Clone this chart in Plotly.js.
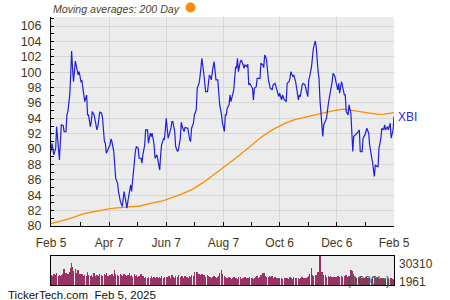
<!DOCTYPE html>
<html>
<head>
<meta charset="utf-8">
<script src="https://cdn.plot.ly/plotly-3.0.1.min.js"></script>
<style>
html,body{margin:0;padding:0;background:#fff;}
#chart{width:450px;height:300px;}
</style>
</head>
<body>
<div id="chart"></div>
<script>
// ---- data ----
const startDate = '2024-02-05';
// day offsets from start date for each price/volume sample
const priceDays = [
0,1,3,5,6,8,9,10,11,13,14,16,17,18,20,21,22,23,24,26,27,29,30,31,32,33,35,36,38,39,40,42,43,44,46,47,49,50,52,54,55,57,58,59,61,63,
64,65,67,68,69,71,72,74,75,76,78,79,81,82,84,85,86,87,89,90,91,93,94,96,97,98,100,101,103,104,106,107,108,110,111,113,114,116,117,118,120,121,123,124,
125,126,128,129,130,132,133,135,136,138,139,140,142,143,145,146,148,149,150,152,153,155,156,158,159,160,161,163,164,165,167,168,169,170,171,173,174,175,176,178,179,180,182,183,185,186,
187,188,190,191,192,194,195,197,198,199,200,202,203,205,206,207,209,210,211,212,214,215,216,217,219,220,222,223,224,226,227,228,229,230,232,233,234,236,237,239,240,241,243,244,246,247,
249,251,252,254,255,256,258,259,261,262,264,265,266,268,269,271,272,274,275,276,278,279,280,282,283,285,286,287,288,289,290,291,293,294,296,297,298,300,301,303,304,306,307,308,310,
311,313,314,315,317,318,320,321,322,323,325,326,328,329,330,332,333,335,336,337,339,340,342,343,345,346,348,349,350,352,353,355,356,357,359,360,362,363,365,366
];
const xbiPrice = [
89.68,90.76,89.25,90.11,92.93,90.11,88.60,90.98,93.14,93.06,92.28,92.28,94.44,94.87,97.04,99.64,102.75,100.50,98.77,101.45,100.94,99.64,100.07,99.20,98.77,98.86,96.61,96.17,97.04,94.44,94.44,92.93,93.58,94.87,94.44,93.58,92.49,92.93,94.79,94.66,94.00,90.98,90.76,89.46,90.11,90.55,
91.32,90.98,89.68,87.95,86.22,85.57,84.48,83.19,82.75,82.54,84.48,83.84,82.32,83.19,84.70,85.35,84.48,86.22,88.38,89.68,90.33,90.11,88.81,88.81,88.16,89.25,90.55,92.49,92.49,90.76,92.06,91.63,92.06,90.55,88.81,89.25,88.60,87.30,89.25,90.55,91.32,91.19,94.00,92.49,
91.41,91.84,92.71,93.58,93.58,92.28,90.33,89.68,89.90,91.41,93.49,92.93,92.28,92.80,92.71,92.71,91.19,90.98,92.71,93.36,94.44,95.09,97.90,98.55,99.42,100.72,101.80,99.85,98.77,97.47,97.47,98.77,99.64,99.42,98.99,100.72,101.37,100.29,98.99,98.99,97.47,95.74,94.44,93.36,92.28,94.44,
94.44,95.31,95.74,97.04,96.17,97.26,97.69,100.72,100.50,101.80,100.07,101.37,101.58,100.94,100.50,100.94,100.72,101.02,98.34,98.55,98.12,97.90,96.39,97.90,98.12,99.20,99.20,99.20,101.15,100.94,100.59,102.23,102.02,101.58,98.99,98.55,97.90,97.69,98.34,98.55,97.90,97.69,96.82,97.26,96.39,97.04,
96.39,96.17,98.55,98.77,99.20,100.07,99.42,99.64,98.77,97.69,96.39,97.04,96.82,98.34,98.55,98.34,97.90,96.82,98.99,99.42,100.72,102.45,103.10,104.05,103.32,100.07,99.20,96.39,94.44,92.71,91.63,93.14,93.79,94.00,95.96,96.61,97.47,98.77,99.85,99.42,98.77,97.69,98.55,97.26,98.77,
98.12,97.04,97.04,94.87,94.44,95.74,94.66,91.41,89.68,91.63,91.84,92.06,92.28,92.49,89.68,89.68,91.41,91.84,92.49,92.71,92.06,90.55,89.03,88.38,86.43,87.95,87.73,87.73,90.11,91.41,92.71,92.49,93.14,92.49,92.93,92.49,93.36,91.41,92.49,94.22
];
// volume in thousands of shares
const volume = [
10.5,9.8,11.2,10.1,12.5,9.6,10.8,9.5,10.2,11.0,16.8,12.1,10.4,11.5,13.2,17.5,22.7,18.9,14.3,16.5,12.8,15.2,11.6,12.0,10.3,11.8,9.7,10.5,8.9,13.6,10.2,9.5,10.1,8.8,12.4,9.6,10.9,9.3,11.1,10.4,9.2,11.7,10.0,12.9,9.4,10.6,
10.2,11.4,9.8,15.6,12.0,10.5,9.7,11.3,10.8,9.4,11.9,10.1,8.9,10.6,12.2,9.5,10.0,8.7,11.0,9.2,10.4,8.8,9.6,11.2,8.5,9.0,7.8,8.6,7.4,8.1,7.2,9.3,7.7,8.4,7.0,7.9,6.8,8.2,7.5,9.1,7.3,8.0,7.6,8.3,
8.1,9.4,7.6,10.2,8.8,7.3,9.0,8.5,10.6,7.9,8.3,9.7,7.5,8.9,8.0,7.2,9.1,8.6,10.0,9.3,13.8,11.2,14.1,12.0,10.4,9.6,11.5,10.1,9.2,8.7,10.9,9.4,8.2,8.8,7.7,8.4,9.5,8.0,7.6,8.3,9.9,12.4,15.8,11.0,9.6,8.5,
7.4,6.8,8.1,7.0,6.3,7.7,8.5,6.9,7.2,6.1,7.9,8.3,6.6,7.1,6.4,8.0,7.5,6.7,7.3,8.6,6.9,7.6,6.2,7.0,8.2,9.1,7.4,8.8,10.3,12.6,11.8,12.3,9.7,8.4,7.9,9.0,8.2,9.6,7.7,8.5,7.1,6.8,7.5,6.9,7.3,6.6,
7.2,6.8,7.5,6.4,7.9,7.0,6.6,8.1,7.3,6.9,7.7,6.5,7.4,8.0,6.8,7.2,7.6,8.3,9.2,11.8,17.4,10.6,9.1,8.7,10.2,13.5,9.8,30.31,12.4,13.6,10.9,9.5,10.4,8.8,9.7,8.2,9.0,8.6,7.9,8.4,8.1,8.9,7.8,8.5,9.3,
8.6,9.3,8.1,10.4,8.8,9.6,15.7,14.2,11.3,9.4,8.5,7.6,8.2,7.3,8.9,7.7,6.8,7.5,8.4,6.9,7.8,7.1,6.5,8.0,9.2,7.4,6.7,7.9,6.3,7.2,6.6,7.7,6.1,6.9,7.4,6.4,5.8,7.0,6.2,1.961
];
// 200-day moving average
const maDays = [0,10,20,35,50,65,80,95,105,120,135,150,163,174,187,197,211,225,236,249,259,273,285,298,312,320,338,349,356,366];
const ma200 = [80.3,80.6,80.95,81.6,82.0,82.3,82.45,82.6,82.9,83.3,83.95,84.7,85.7,86.7,87.8,88.8,90.2,91.6,92.5,93.3,93.8,94.2,94.6,94.9,95.2,95.05,94.75,94.5,94.55,94.75];
// axis ticks
const xTickDates = ['2024-02-05','2024-04-07','2024-06-07','2024-08-07','2024-10-06','2024-12-06','2025-02-05'];
const xTickLabels = ['Feb 5','Apr 7','Jun 7','Aug 7','Oct 6','Dec 6','Feb 5'];
const xMinorDates = ['2024-03-07','2024-05-07','2024-07-07','2024-09-06','2024-11-06','2025-01-06'];
const volMax = 30310, volMin = 1961;

// ---- helpers ----
const t0 = Date.UTC(2024,1,5);
const toDate = d => new Date(t0 + d*86400000).toISOString().slice(0,10);
const priceDates = priceDays.map(toDate);
const maDates = maDays.map(toDate);

const txt = '#45371a';
const font = 'Liberation Sans, Arial, sans-serif';

// paper-coordinate helpers (plot area: x 51..394, y 17..285)
const L=51, R=394, T=17, B=285;
const px = x => (x-L)/(R-L);
const py = y => (B-y)/(B-T);

const traces = [
  {x: priceDates, y: volume.map(v=>v*1000), type:'bar', xaxis:'x2', yaxis:'y2',
   marker:{color:'#993366', line:{width:0}}, width: 1.6*86400000, hoverinfo:'skip'},
  {x: maDates, y: ma200, type:'scatter', mode:'lines', line:{color:'#ff8c00', width:1.3}, hoverinfo:'skip'},
  {x: priceDates, y: xbiPrice, type:'scatter', mode:'lines', line:{color:'#2020dc', width:1.2}, hoverinfo:'skip'}
];

const layout = {
  width:450, height:300,
  margin:{l:L, r:450-R, t:T, b:300-B},
  paper_bgcolor:'#ffffff', plot_bgcolor:'#ececec',
  showlegend:false, bargap:0,
  font:{family:font, size:12, color:txt},
  xaxis:{
    type:'date', domain:[0,1], anchor:'y',
    range:['2024-02-05','2025-02-05'],
    tickmode:'array', tickvals:xTickDates, ticktext:xTickLabels,
    ticks:'inside', ticklen:4, tickcolor:'#000',
    showline:true, linecolor:'#000', linewidth:1,
    showgrid:true, gridcolor:'#d7d7d7', gridwidth:1,
    zeroline:false, ticklabelstandoff:6,
    tickfont:{family:font, size:12, color:txt},
    minor:{tickmode:'array', tickvals:xMinorDates, ticks:'inside', ticklen:4, tickcolor:'#000', showgrid:false}
  },
  yaxis:{
    domain:[py(226),1], anchor:'x',
    range:[80, 107.17],
    tick0:80, dtick:2,
    ticks:'inside', ticklen:3, tickcolor:'#000',
    showline:true, linecolor:'#000', linewidth:1,
    showgrid:true, gridcolor:'#d7d7d7', gridwidth:1,
    zeroline:false, ticklabelstandoff:6,
    tickfont:{family:font, size:12.5, color:txt},
    minor:{dtick:1, ticks:'inside', ticklen:3, tickcolor:'#000', showgrid:false}
  },
  xaxis2:{
    type:'date', domain:[0,1], anchor:'y2', matches:'x',
    showticklabels:false, ticks:'', showgrid:false, zeroline:false,
    showline:true, mirror:true, linecolor:'#000', linewidth:1
  },
  yaxis2:{
    domain:[0, py(256)], anchor:'x2',
    range:[0, volMax],
    showticklabels:false, ticks:'', showgrid:false, zeroline:false,
    showline:true, mirror:true, linecolor:'#000', linewidth:1
  },
  annotations:[
    {text:'Moving averages: 200 Day', xref:'paper', yref:'paper', x:0, y:py(9.5), xanchor:'left', yanchor:'middle',
     showarrow:false, font:{family:font, size:10.6, color:'#4a3f28', style:'italic'}},
    {text:'XBI', xref:'paper', yref:'y', x:px(396), y:xbiPrice[xbiPrice.length-1], xanchor:'left', yanchor:'middle',
     showarrow:false, font:{family:font, size:12, color:'#2a2ae0'}},
    {text:String(volMax), xref:'paper', yref:'paper', x:px(397), y:py(263.5), xanchor:'left', yanchor:'middle',
     showarrow:false, font:{family:font, size:12, color:txt}},
    {text:String(volMin), xref:'paper', yref:'paper', x:px(397), y:py(282), xanchor:'left', yanchor:'middle',
     showarrow:false, font:{family:font, size:12, color:txt}},
    {text:"(1000's)", xref:'paper', yref:'paper', x:px(392), y:py(281), xanchor:'right', yanchor:'middle',
     showarrow:false, font:{family:font, size:12, color:'#3b5a48'}},
    {text:'TickerTech.com  Feb 5, 2025', xref:'paper', yref:'paper', x:px(6), y:py(294.5), xanchor:'left', yanchor:'middle',
     showarrow:false, font:{family:font, size:11.5, color:'#111111'}}
  ],
  shapes:[
    {type:'circle', xref:'paper', yref:'paper', xsizemode:'pixel', ysizemode:'pixel',
     xanchor:px(190.5), yanchor:py(7.5), x0:-5, x1:5, y0:-5, y1:5,
     fillcolor:'#ff8c00', line:{width:0}}
  ]
};

Plotly.newPlot('chart', traces, layout, {staticPlot:true, displayModeBar:false});
</script>
</body>
</html>
